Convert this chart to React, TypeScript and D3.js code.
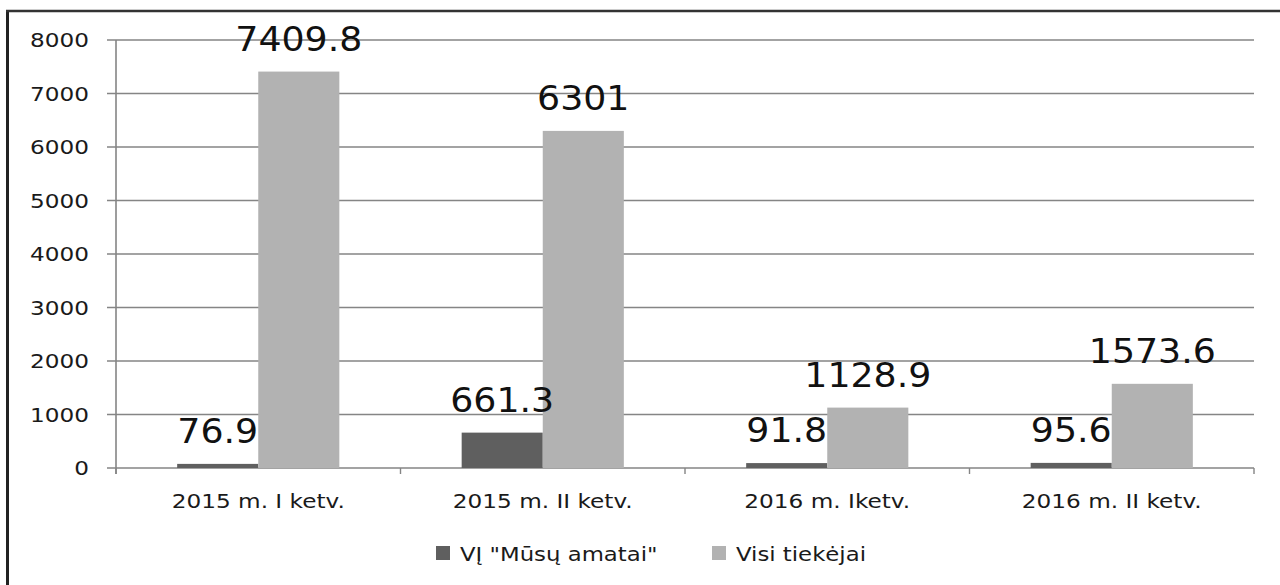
import React from "react";
import * as d3 from "d3";

const categories = ["2015 m. I ketv.", "2015 m. II ketv.", "2016 m. Iketv.", "2016 m. II ketv."];
const seriesNames = ["VĮ \"Mūsų amatai\"", "Visi tiekėjai"];
const seriesA = [76.9, 661.3, 91.8, 95.6];
const seriesB = [7409.8, 6301, 1128.9, 1573.6];
const yTicks = [0, 1000, 2000, 3000, 4000, 5000, 6000, 7000, 8000];
const colors = ["#5f5f5f", "#b2b2b2"];

const W = 1280;
const H = 585;
const plot = { left: 116, right: 1254, top: 40, bottom: 468 };
const FONT = "'DejaVu Sans', Verdana, sans-serif";

export default function App() {
  const x = d3.scaleBand<string>().domain(categories).range([plot.left, plot.right]).paddingInner(0).paddingOuter(0);
  const y = d3.scaleLinear().domain([0, 8000]).range([plot.bottom, plot.top]);
  const bandW = x.bandwidth();
  const barW = bandW * 0.285;
  const series = [seriesA, seriesB];

  const marks = categories.flatMap((c, ci) => {
    const center = (x(c) as number) + bandW / 2;
    return series.map((s, si) => ({ key: c + si, si, v: s[ci], bx: center - barW + si * barW }));
  });

  return (
    <svg width={W} height={H} style={{ position: "absolute", left: 0, top: 0, display: "block", background: "#fff" }}>
      <rect x={0} y={0} width={W} height={H} fill="#fff" />
      {/* outer frame */}
      <line x1={7.5} y1={10} x2={7.5} y2={H} stroke="#222" strokeWidth={3} />
      <line x1={6} y1={11} x2={W} y2={11} stroke="#333" strokeWidth={2.5} />

      {/* gridlines */}
      {yTicks.map((t) => (
        <line key={"g" + t} x1={plot.left - 9} x2={plot.right} y1={y(t)} y2={y(t)} stroke="#858585" strokeWidth={1.6} />
      ))}
      {/* y axis */}
      <line x1={plot.left} x2={plot.left} y1={plot.top} y2={plot.bottom + 6} stroke="#858585" strokeWidth={1.6} />
      {yTicks.map((t) => (
        <text
          key={"yt" + t}
          transform={`translate(89,${y(t) + 7}) scale(1.22,1)`}
          textAnchor="end"
          fontFamily={FONT}
          fontSize={19}
          fill="#1a1a1a"
        >
          {t}
        </text>
      ))}
      {/* category ticks */}
      {categories.concat([""]).map((c, i) => {
        const xx = plot.left + i * bandW;
        return <line key={"ct" + i} x1={xx} x2={xx} y1={plot.bottom} y2={plot.bottom + 6} stroke="#858585" strokeWidth={1.4} />;
      })}

      {/* bars */}
      {marks.map((m) => (
        <rect key={"b" + m.key} x={m.bx} y={y(m.v)} width={barW} height={plot.bottom - y(m.v)} fill={colors[m.si]} />
      ))}
      {/* data labels on top */}
      {marks.map((m) => (
        <text
          key={"t" + m.key}
          transform={`translate(${m.bx + barW / 2},${y(m.v) - 21}) scale(1.1,1)`}
          textAnchor="middle"
          fontFamily={FONT}
          fontSize={33}
          fill="#111"
        >
          {m.v}
        </text>
      ))}

      {/* category labels */}
      {categories.map((c) => (
        <text
          key={"cl" + c}
          transform={`translate(${(x(c) as number) + bandW / 2},508) scale(1.16,1)`}
          textAnchor="middle"
          fontFamily={FONT}
          fontSize={20}
          fill="#1a1a1a"
        >
          {c}
        </text>
      ))}

      {/* legend */}
      {seriesNames.map((n, i) => {
        const lx = [436, 712][i];
        return (
          <g key={"lg" + i}>
            <rect x={lx} y={546} width={14} height={14} fill={colors[i]} />
            <text transform={`translate(${lx + 24},561) scale(1.2,1)`} fontFamily={FONT} fontSize={19} fill="#1a1a1a">
              {n}
            </text>
          </g>
        );
      })}
    </svg>
  );
}
